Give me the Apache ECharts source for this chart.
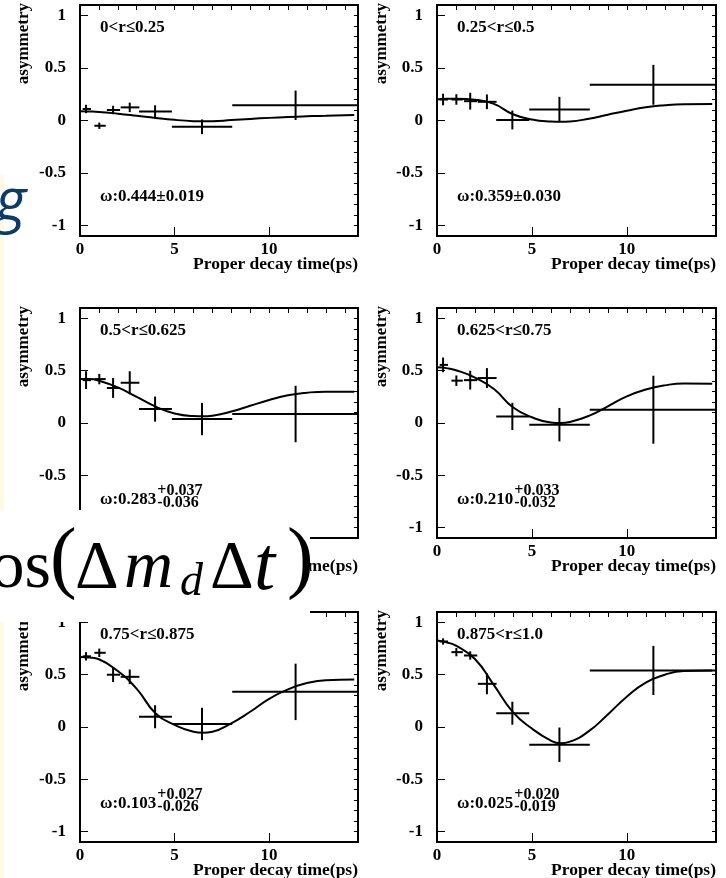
<!DOCTYPE html>
<html><head><meta charset="utf-8">
<script src="https://cdn.jsdelivr.net/npm/echarts@6/dist/echarts.min.js"></script>
<style>html,body{margin:0;padding:0;background:#fff;}#c{width:726px;height:878px;}</style>
</head><body><div id="c"></div>
<script>
// ---------- data ----------
const binCenters = [0.32, 1.02, 1.75, 2.63, 3.97, 6.45, 11.4];
const binLow     = [0.14, 0.76, 1.42, 2.15, 3.12, 4.86, 8.05];
const binHigh    = [0.58, 1.36, 2.12, 3.14, 4.86, 8.05, 14.7];

const asym1 = [0.11, -0.05, 0.10, 0.125, 0.085, -0.06, 0.145];
const err1  = [0.04, 0.03, 0.04, 0.045, 0.06, 0.07, 0.14];
const asym2 = [0.20, 0.20, 0.184, 0.178, 0.005, 0.105, 0.34];
const err2  = [0.055, 0.05, 0.08, 0.07, 0.09, 0.12, 0.19];
const asym3 = [0.41, 0.42, 0.335, 0.385, 0.133, 0.038, 0.086];
const err3  = [0.085, 0.05, 0.095, 0.11, 0.12, 0.155, 0.27];
const asym4 = [0.556, 0.405, 0.41, 0.43, 0.063, -0.016, 0.127];
const err4  = [0.07, 0.05, 0.09, 0.095, 0.13, 0.16, 0.325];
const asym5 = [0.676, 0.71, 0.50, 0.48, 0.098, 0.029, 0.336];
const err5  = [0.04, 0.04, 0.07, 0.07, 0.11, 0.155, 0.27];
const asym6 = [0.818, 0.716, 0.684, 0.413, 0.132, -0.17, 0.541];
const err6  = [0.03, 0.04, 0.04, 0.10, 0.11, 0.165, 0.235];

const curveX = [0, 0.5, 1, 2, 3, 4, 5, 6, 6.5, 7, 8, 9, 10, 11, 12, 13, 14.5];
const curve1 = [0.088, 0.086, 0.082, 0.065, 0.045, 0.024, 0.006, -0.006, -0.008, -0.007, 0.004, 0.015, 0.025, 0.033, 0.040, 0.046, 0.052];
const curve2 = [0.200, 0.206, 0.208, 0.198, 0.158, 0.060, 0.010, -0.010, -0.013, -0.010, 0.017, 0.055, 0.093, 0.126, 0.145, 0.155, 0.158];
const curve3 = [0.420, 0.420, 0.405, 0.340, 0.250, 0.157, 0.090, 0.066, 0.064, 0.070, 0.110, 0.165, 0.220, 0.265, 0.290, 0.300, 0.300];
const curve4 = [0.533, 0.525, 0.505, 0.435, 0.325, 0.150, 0.055, 0.005, 0.000, 0.010, 0.068, 0.160, 0.255, 0.320, 0.360, 0.378, 0.376];
const curve5 = [0.670, 0.665, 0.648, 0.535, 0.365, 0.130, 0.020, -0.045, -0.054, -0.045, 0.035, 0.146, 0.270, 0.360, 0.420, 0.448, 0.454];
const curve6 = [0.828, 0.810, 0.778, 0.650, 0.400, 0.142, -0.015, -0.130, -0.155, -0.140, -0.040, 0.120, 0.290, 0.425, 0.500, 0.535, 0.540];

const rLabels   = ['0<r\u22640.25', '0.25<r\u22640.5', '0.5<r\u22640.625', '0.625<r\u22640.75', '0.75<r\u22640.875', '0.875<r\u22641.0'];
const omegaMain = ['\u03c9:0.444\u00b10.019', '\u03c9:0.359\u00b10.030', '\u03c9:0.283', '\u03c9:0.210', '\u03c9:0.103', '\u03c9:0.025'];
const omegaUp   = ['', '', '+0.037', '+0.033', '+0.027', '+0.020'];
const omegaDown = ['', '', '-0.036', '-0.032', '-0.026', '-0.019'];

const xMajorTicks = [0, 5, 10];
const yMajorTicks = [-1, -0.5, 0, 0.5, 1];
const xAxisTitle = 'Proper decay time(ps)';
const yAxisTitle = 'asymmetry';

// ---------- layout ----------
const panels = [
  {left: 80,  top: 5,   width: 278, height: 231},
  {left: 437, top: 5,   width: 279, height: 231},
  {left: 80,  top: 308, width: 278, height: 230},
  {left: 437, top: 308, width: 279, height: 230},
  {left: 80,  top: 612, width: 278, height: 230},
  {left: 437, top: 612, width: 279, height: 230}
];
const asymSets = [asym1, asym2, asym3, asym4, asym5, asym6];
const errSets  = [err1, err2, err3, err4, err5, err6];
const curveSets = [curve1, curve2, curve3, curve4, curve5, curve6];

const SERIF = '"Liberation Serif", "Times New Roman", serif';
const ctx = document.createElement('canvas').getContext('2d');
function tw(text, font) { ctx.font = font; return ctx.measureText(text).width; }

function T(x, y, text, font, extra) {
  const el = {type: 'text', x: x, y: y, z: 50,
    style: {text: text, font: font, fill: '#000', align: 'left', verticalAlign: 'middle', textAlign: 'left', textVerticalAlign: 'middle'}};
  if (extra) {
    if (extra.style) Object.assign(el.style, extra.style);
    if (extra.el) Object.assign(el, extra.el);
  }
  return el;
}

const grids = [], xAxes = [], yAxes = [], series = [], graphics = [];
const tickLine = {color: '#000', width: 1};
const labelStyle = {fontFamily: SERIF, fontWeight: 'bold', fontSize: 17, color: '#000'};

panels.forEach(function (p, i) {
  grids.push({left: p.left, top: p.top, width: p.width, height: p.height, show: true, borderColor: '#000', borderWidth: 2, backgroundColor: 'transparent'});
  xAxes.push({type: 'value', gridIndex: i, min: 0, max: 14.7,
    axisLine: {show: true, onZero: false, lineStyle: {color: '#000', width: 2}},
    axisTick: {show: true, inside: true, length: 9, customValues: xMajorTicks, lineStyle: tickLine},
    axisLabel: Object.assign({show: true, margin: 5, customValues: xMajorTicks}, labelStyle),
    splitLine: {show: false}});
  xAxes.push({type: 'value', gridIndex: i, min: 0, max: 14.7, interval: 1,
    axisLine: {show: false, onZero: false}, axisTick: {show: true, inside: true, length: 5, lineStyle: tickLine},
    axisLabel: {show: false}, splitLine: {show: false}});
  yAxes.push({type: 'value', gridIndex: i, min: -1.1, max: 1.1,
    axisLine: {show: true, onZero: false, lineStyle: {color: '#000', width: 2}},
    axisTick: {show: true, inside: true, length: 8, customValues: yMajorTicks, lineStyle: tickLine},
    axisLabel: Object.assign({show: true, margin: 14, customValues: yMajorTicks}, labelStyle),
    splitLine: {show: false}});
  yAxes.push({type: 'value', gridIndex: i, min: -1.1, max: 1.1, interval: 0.1,
    axisLine: {show: false, onZero: false}, axisTick: {show: true, inside: true, length: 4, lineStyle: tickLine},
    axisLabel: {show: false}, splitLine: {show: false}});

  const ys = asymSets[i], es = errSets[i];
  const items = binCenters.map(function (x, k) { return [x, ys[k], binLow[k], binHigh[k], es[k]]; });
  series.push({type: 'custom', xAxisIndex: 2 * i, yAxisIndex: 2 * i, silent: true, z: 4,
    data: items,
    renderItem: function (params, api) {
      const xc = api.value(0), y = api.value(1), xl = api.value(2), xh = api.value(3), e = api.value(4);
      const a = api.coord([xl, y]), b = api.coord([xh, y]), c = api.coord([xc, y - e]), d = api.coord([xc, y + e]);
      const st = {stroke: '#000', lineWidth: 2};
      return {type: 'group', children: [
        {type: 'line', shape: {x1: a[0], y1: a[1], x2: b[0], y2: b[1]}, style: st},
        {type: 'line', shape: {x1: c[0], y1: c[1], x2: d[0], y2: d[1]}, style: st}
      ]};
    }});
  const cs = curveSets[i];
  series.push({type: 'line', xAxisIndex: 2 * i, yAxisIndex: 2 * i, silent: true, z: 3,
    data: curveX.map(function (x, k) { return [x, cs[k]]; }),
    smooth: 0.5, showSymbol: false, symbol: 'none',
    lineStyle: {color: '#000', width: 2}});

  // annotations
  const fB = 'bold 17px ' + SERIF;
  graphics.push(T(p.left + 20, p.top + 23, rLabels[i], fB));
  const oy = p.top + 192;
  graphics.push(T(p.left + 20, oy, omegaMain[i], fB));
  if (omegaUp[i]) {
    const fS = 'bold 16px ' + SERIF;
    const sx = p.left + 20 + tw(omegaMain[i], fB) + 1;
    graphics.push(T(sx, oy - 9, omegaUp[i], fS));
    graphics.push(T(sx, oy + 3, omegaDown[i], fS));
  }
  graphics.push(T(p.left + p.width, p.top + p.height + 28, xAxisTitle, 'bold 17.5px ' + SERIF, {style: {align: 'right', textAlign: 'right'}}));
  const ax = (i % 2 === 0) ? 24 : 382;
  graphics.push(T(ax, p.top - 2, yAxisTitle, 'bold 17px ' + SERIF, {style: {align: 'right', textAlign: 'right'}, el: {rotation: Math.PI / 2}}));
});

// overlapping fragments from the slide behind the chart
graphics.push({type: 'rect', z: 99, shape: {x: 0, y: 175, width: 4, height: 703}, style: {fill: '#fdf9e4'}});
graphics.push({type: 'rect', z: 100, shape: {x: 0, y: 510, width: 310, height: 112}, style: {fill: '#fff'}});
graphics.push(T(-5, 204, 'g', 'italic 60px "Open Sans", "Noto Sans", sans-serif', {style: {fill: '#0c3a6a'}, el: {z: 101}}));
const F = '68px "Liberation Serif", serif', FI = 'italic 68px "Liberation Serif", serif', FP = '80px "Liberation Serif", serif';
graphics.push(T(51, 569, 'os', F, {style: {align: 'right', textAlign: 'right'}, el: {z: 101}}));
graphics.push(T(50, 562, '(', FP, {el: {z: 101}}));
graphics.push(T(75, 569, '\u0394', F, {el: {z: 101}}));
graphics.push(T(124, 569, 'm', FI, {el: {z: 101}}));
graphics.push(T(180, 583, 'd', 'italic 46px "Liberation Serif", serif', {el: {z: 101}}));
graphics.push(T(210, 569, '\u0394', F, {el: {z: 101}}));
graphics.push(T(254, 569, 't', 'italic 76px "Liberation Serif", serif', {el: {z: 101}}));
graphics.push(T(287, 562, ')', FP, {el: {z: 101}}));

const chart = echarts.init(document.getElementById('c'), null, {renderer: 'canvas'});
chart.setOption({
  animation: false,
  backgroundColor: '#fff',
  grid: grids, xAxis: xAxes, yAxis: yAxes, series: series,
  graphic: {elements: graphics}
});
</script>
</body></html>
